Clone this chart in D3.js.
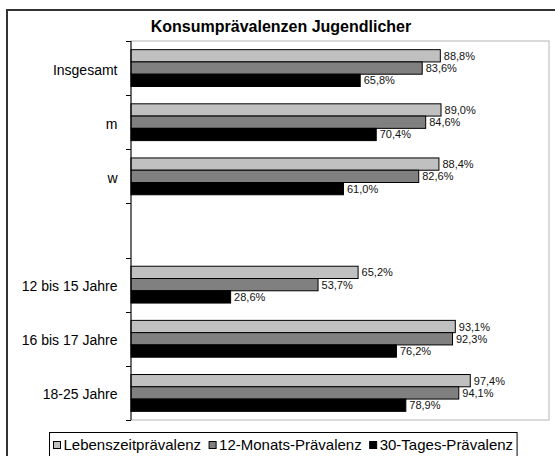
<!DOCTYPE html>
<html>
<head>
<meta charset="utf-8">
<script src="https://cdn.jsdelivr.net/npm/d3@7"></script>
<style>
  html, body { margin: 0; padding: 0; background: #fff; }
  svg { display: block; font-family: "Liberation Sans", Arial, sans-serif; }
</style>
</head>
<body>
<svg id="chart" width="555" height="456"></svg>
<script>
// ---- data ----
const title = "Konsumprävalenzen Jugendlicher";
const categories = ["Insgesamt", "m", "w", "", "12 bis 15 Jahre", "16 bis 17 Jahre", "18-25 Jahre"];
const seriesNames = ["Lebenszeitprävalenz", "12-Monats-Prävalenz", "30-Tages-Prävalenz"];
const lebenszeit = [88.8, 89.0, 88.4, null, 65.2, 93.1, 97.4];
const zwoelfMonate = [83.6, 84.6, 82.6, null, 53.7, 92.3, 94.1];
const dreissigTage = [65.8, 70.4, 61.0, null, 28.6, 76.2, 78.9];
const seriesValues = [lebenszeit, zwoelfMonate, dreissigTage];
const seriesColors = ["#c0c0c0", "#808080", "#000000"];
const xDomain = [0, 120];

// ---- layout ----
const svg = d3.select("#chart");
const plot = { left: 131, right: 549, top: 41, bottom: 420 };

// outer chart border
svg.append("rect")
  .attr("x", 7).attr("y", 10).attr("width", 570).attr("height", 470)
  .attr("fill", "#fff").attr("stroke", "#333").attr("stroke-width", 2);

// title
svg.append("text")
  .attr("x", 281).attr("y", 31.5)
  .attr("text-anchor", "middle")
  .attr("font-size", 16).attr("font-weight", "bold")
  .attr("fill", "#000")
  .text(title);

const keys = categories.map((c, i) => "k" + i);
const y = d3.scaleBand().domain(keys).range([plot.top, plot.bottom])
  .paddingInner(0.32).paddingOuter(0.16);
const ySub = d3.scaleBand().domain(d3.range(seriesNames.length)).range([0, y.bandwidth()]);
const x = d3.scaleLinear().domain(xDomain).range([plot.left, plot.right]);

// plot area border (grey)
svg.append("rect")
  .attr("x", x(xDomain[0])).attr("y", plot.top)
  .attr("width", x(xDomain[1]) - x(xDomain[0])).attr("height", plot.bottom - plot.top)
  .attr("fill", "none").attr("stroke", "#b4b4b4").attr("stroke-width", 1);

const fmt = v => d3.format(".1f")(v).replace(".", ",") + "%";

// bars
const groups = svg.append("g").selectAll("g")
  .data(categories.map((c, i) => ({ key: keys[i], label: c, i })))
  .join("g")
  .attr("transform", d => `translate(0,${y(d.key)})`);

groups.each(function (d) {
  const g = d3.select(this);
  seriesValues.forEach((vals, s) => {
    const v = vals[d.i];
    if (v == null) return;
    g.append("rect")
      .attr("x", x(0)).attr("y", ySub(s))
      .attr("width", x(v) - x(0)).attr("height", ySub.bandwidth())
      .attr("fill", seriesColors[s]).attr("stroke", "#000").attr("stroke-width", 1);
  });
  seriesValues.forEach((vals, s) => {
    const v = vals[d.i];
    if (v == null) return;
    g.append("text")
      .attr("x", x(v) + 3.5).attr("y", ySub(s) + ySub.bandwidth() / 2 + 4)
      .attr("font-size", 11).attr("fill", "#111")
      .text(fmt(v));
  });
});

// left axis line
svg.append("line")
  .attr("x1", plot.left).attr("x2", plot.left)
  .attr("y1", plot.top).attr("y2", plot.bottom)
  .attr("stroke", "#000").attr("stroke-width", 1);

// ticks at category boundaries
const bounds = keys.map(k => y(k) - y.step() * y.paddingInner() / 2);
bounds.push(plot.bottom);
svg.append("g").selectAll("line").data(bounds).join("line")
  .attr("x1", plot.left - 5).attr("x2", plot.left)
  .attr("y1", d => Math.round(d) + 0.5).attr("y2", d => Math.round(d) + 0.5)
  .attr("stroke", "#000").attr("stroke-width", 1);

// category labels
svg.append("g").selectAll("text").data(categories.map((c, i) => ({ c, k: keys[i] }))).join("text")
  .attr("x", 117.5)
  .attr("y", d => y(d.k) + y.bandwidth() / 2 + 6.5)
  .attr("text-anchor", "end")
  .attr("font-size", 14).attr("fill", "#000")
  .text(d => d.c);

// legend
const legend = svg.append("g");
const legBox = legend.append("rect")
  .attr("fill", "#fff").attr("stroke", "#000").attr("stroke-width", 1);
let lx = 53.5;
seriesNames.forEach((name, s) => {
  legend.append("rect")
    .attr("x", lx).attr("y", 441.5).attr("width", 7).attr("height", 7)
    .attr("fill", seriesColors[s]).attr("stroke", "#000").attr("stroke-width", 1);
  const t = legend.append("text")
    .attr("x", lx + 10).attr("y", 449.5)
    .attr("font-size", 15).attr("fill", "#000")
    .text(name);
  lx = lx + 10 + t.node().getComputedTextLength() + 8;
});
legBox.attr("x", 49.5).attr("y", 432.5).attr("width", lx - 8 + 4 - 49.5).attr("height", 26);
</script>
</body>
</html>
